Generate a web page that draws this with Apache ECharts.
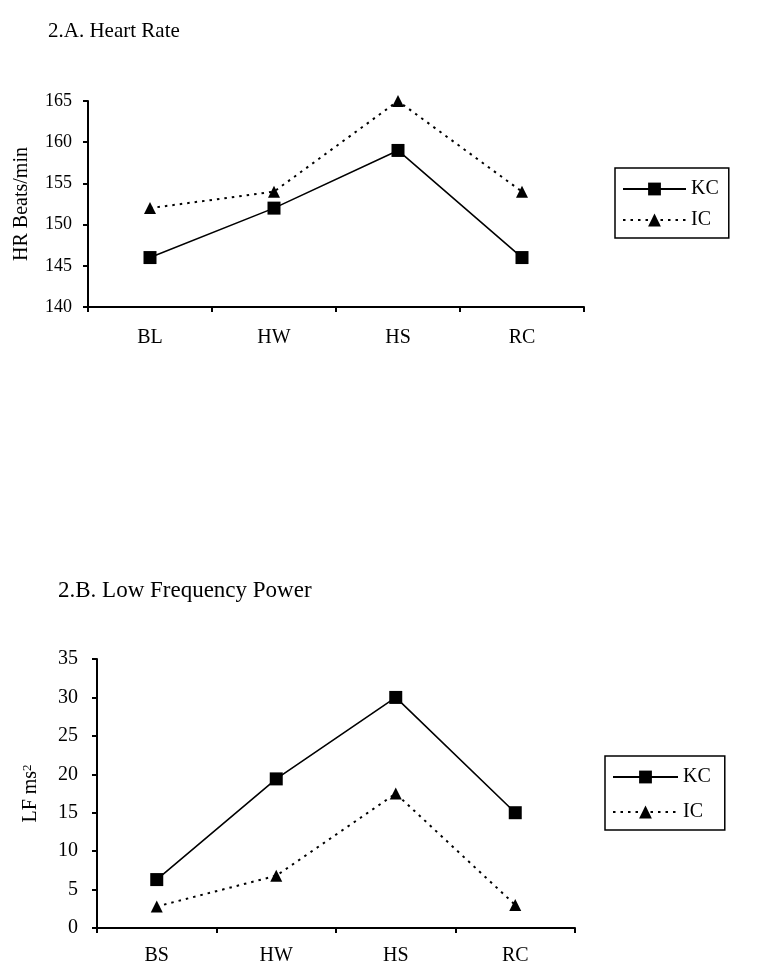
<!DOCTYPE html>
<html>
<head>
<meta charset="utf-8">
<script src="https://cdn.jsdelivr.net/npm/echarts@6/dist/echarts.min.js"></script>
<style>
  html, body { margin: 0; padding: 0; background: #fff; }
  #main { width: 759px; height: 975px; }
</style>
</head>
<body>
<div id="main"></div>
<script>
// 2.A heart rate
const hrStages = ["BL", "HW", "HS", "RC"];
const hrKC = [146, 152, 159, 146];
const hrIC = [152, 154, 165, 154];
const hrTicks = { min: 140, max: 165, step: 5 };

// 2.B low frequency power
const lfStages = ["BS", "HW", "HS", "RC"];
const lfKC = [6.3, 19.4, 30, 15];
const lfIC = [2.8, 6.8, 17.5, 3];
const lfTicks = { min: 0, max: 35, step: 5 };

const serif = "Liberation Serif";

function xAxisFor(idx, cats, margin) {
  return {
    gridIndex: idx,
    type: "category",
    data: cats,
    boundaryGap: true,
    axisLine: { lineStyle: { color: "#000", width: 2 } },
    axisTick: { show: true, length: 5, inside: false, lineStyle: { color: "#000", width: 2 } },
    axisLabel: { color: "#000", fontFamily: serif, fontSize: 20, margin: margin },
    splitLine: { show: false },
  };
}

function yAxisFor(idx, t, name, gap, labelSize, margin) {
  return {
    gridIndex: idx,
    type: "value",
    min: t.min,
    max: t.max,
    interval: t.step,
    name: name,
    nameLocation: "middle",
    nameGap: gap,
    nameTextStyle: {
      color: "#000",
      fontFamily: serif,
      fontSize: 20,
      rich: { sup: { fontSize: 13, fontFamily: serif, color: "#000", verticalAlign: "top" } },
    },
    axisLine: { show: true, lineStyle: { color: "#000", width: 2 } },
    axisTick: { show: true, length: 5, lineStyle: { color: "#000", width: 2 } },
    axisLabel: { color: "#000", fontFamily: serif, fontSize: labelSize, margin: margin },
    splitLine: { show: false },
  };
}

// 实线 KC / 虚点线 IC
function seriesPair(idx, kc, ic) {
  return [
    {
      name: "KC",
      type: "line",
      xAxisIndex: idx,
      yAxisIndex: idx,
      data: kc,
      symbol: "rect",
      symbolSize: 13,
      itemStyle: { color: "#000" },
      lineStyle: { color: "#000", width: 1.6, type: "solid" },
    },
    {
      name: "IC",
      type: "line",
      xAxisIndex: idx,
      yAxisIndex: idx,
      data: ic,
      symbol: "triangle",
      symbolSize: 12,
      itemStyle: { color: "#000" },
      lineStyle: { color: "#000", width: 2, type: [2.5, 5] },
    },
  ];
}

function legendAt(left, top, itemWidth, itemGap, padding) {
  return {
    left: left,
    top: top,
    orient: "vertical",
    data: ["KC", "IC"],
    itemWidth: itemWidth,
    itemHeight: 16,
    itemGap: itemGap,
    padding: padding,
    borderColor: "#000",
    borderWidth: 1.5,
    selectedMode: false,
    textStyle: { color: "#000", fontFamily: serif, fontSize: 20 },
  };
}

const chart = echarts.init(document.getElementById("main"));

chart.setOption({
  animation: false,
  backgroundColor: "#fff",
  title: [
    {
      text: "2.A. Heart Rate",
      left: 48,
      top: 21,
      padding: 0,
      textStyle: { color: "#000", fontFamily: serif, fontSize: 21, fontWeight: "normal" },
    },
    {
      text: "2.B. Low Frequency Power",
      left: 58,
      top: 579,
      padding: 0,
      textStyle: { color: "#000", fontFamily: serif, fontSize: 23, fontWeight: "normal" },
    },
  ],
  legend: [
    legendAt(615, 168, 63, 11, [11, 10, 8, 7]),
    legendAt(605, 756, 65, 15, [11, 14, 8, 7]),
  ],
  grid: [
    { left: 88, right: 175, top: 101, bottom: 668, containLabel: false, outerBoundsMode: "none" },
    { left: 97, right: 184, top: 659, bottom: 47, containLabel: false, outerBoundsMode: "none" },
  ],
  xAxis: [xAxisFor(0, hrStages, 21), xAxisFor(1, lfStages, 18)],
  yAxis: [
    yAxisFor(0, hrTicks, "HR Beats/min", 56, 18, 16),
    yAxisFor(1, lfTicks, "LF ms{sup|2}", 56, 20, 19),
  ],
  series: [...seriesPair(0, hrKC, hrIC), ...seriesPair(1, lfKC, lfIC)],
});

window.addEventListener("resize", () => {
  chart.resize();
});
</script>
</body>
</html>
